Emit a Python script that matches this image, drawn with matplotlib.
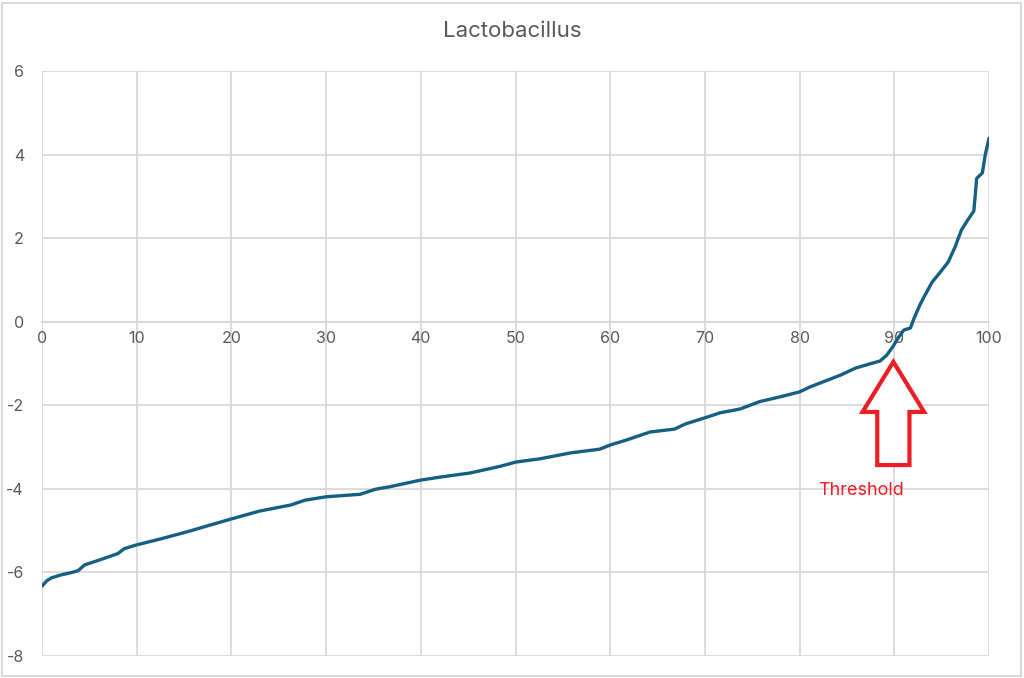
import numpy as np
import matplotlib
matplotlib.use('agg')
import matplotlib.pyplot as plt
from matplotlib.patches import FancyArrow, Rectangle

# percentile rank (x) and score (y)
pct = [0, 0.5, 1, 2, 3, 3.8, 4.5, 6.1, 8, 8.7, 10, 12.5, 15.6, 17.7, 20, 23, 26.2,
       27.8, 30, 33.6, 35.2, 36.7, 40, 42, 45.2, 48.4, 50, 52.6, 55.8, 58.9, 60,
       61.6, 64.2, 66.8, 67.9, 70, 71.6, 73.7, 75.8, 77.9, 80, 81.1, 82.7, 84.3,
       85.9, 87.4, 88.5, 89.2, 89.9, 90.4, 91, 91.7, 92.1, 92.7, 93.2, 94, 94.8,
       95.7, 96.4, 97.1, 97.8, 98.4, 98.7, 99.3, 99.6, 100]
score = [-6.33, -6.2, -6.13, -6.06, -6.01, -5.96, -5.82, -5.70, -5.55, -5.43, -5.34,
         -5.20, -5.01, -4.87, -4.72, -4.53, -4.39, -4.27, -4.19, -4.13, -4.01, -3.95,
         -3.79, -3.72, -3.62, -3.46, -3.36, -3.28, -3.14, -3.05, -2.95, -2.84, -2.64,
         -2.57, -2.45, -2.30, -2.18, -2.09, -1.91, -1.80, -1.68, -1.56, -1.42, -1.28,
         -1.11, -1.01, -0.94, -0.80, -0.58, -0.39, -0.20, -0.15, 0.09, 0.40, 0.62,
         0.95, 1.17, 1.43, 1.78, 2.20, 2.45, 2.65, 3.43, 3.56, 3.99, 4.39]

xticks = list(range(0, 101, 10))
yticks = list(range(-8, 7, 2))

grey = '#595959'
grid = '#d9d9d9'
plt.rcParams['font.family'] = ['Inter', 'DejaVu Sans']
plt.rcParams['axes.unicode_minus'] = False

fig = plt.figure(figsize=(10.24, 6.78), dpi=100)
ax = fig.add_axes([42/1024, 1-656/678, (989-42)/1024, (656-71)/678])

ax.plot(pct, score, color='#156082', lw=2.4, solid_capstyle='round', zorder=3)

ax.set_xlim(0, 100)
ax.set_ylim(-8, 6)
ax.set_xticks(xticks)
ax.set_yticks(yticks)
ax.grid(True, color=grid, lw=1.3)
ax.set_axisbelow(True)
for s in ['top', 'right', 'left']:
    ax.spines[s].set_visible(False)
ax.spines['bottom'].set_position(('data', 0))
ax.spines['bottom'].set_color(grid)
ax.spines['bottom'].set_linewidth(1.3)
ax.tick_params(axis='both', length=0, colors=grey, labelsize=11.5)
ax.tick_params(axis='y', pad=13)
ax.tick_params(axis='x', pad=7)

fig.text(0.5, 1-31/678, 'Lactobacillus', ha='center', va='center',
         fontsize=16, color=grey)

# threshold arrow annotation
arrow = FancyArrow(89.9, -3.43, 0, 2.47, width=3.4, head_width=6.5, head_length=1.2,
                   length_includes_head=True, fc='white', ec='#ee1c25', lw=3,
                   joinstyle='miter', zorder=4)
ax.add_patch(arrow)
ax.text(86.5, -4.04, 'Threshold', ha='center', va='center', color='#ee1c25',
        fontsize=13)

fig.patches.append(Rectangle((2/1024, 2/678), 1-5/1024, 1-5/678, transform=fig.transFigure,
                             fill=False, ec=grid, lw=1.5))

fig.savefig('out.png', dpi=100)
